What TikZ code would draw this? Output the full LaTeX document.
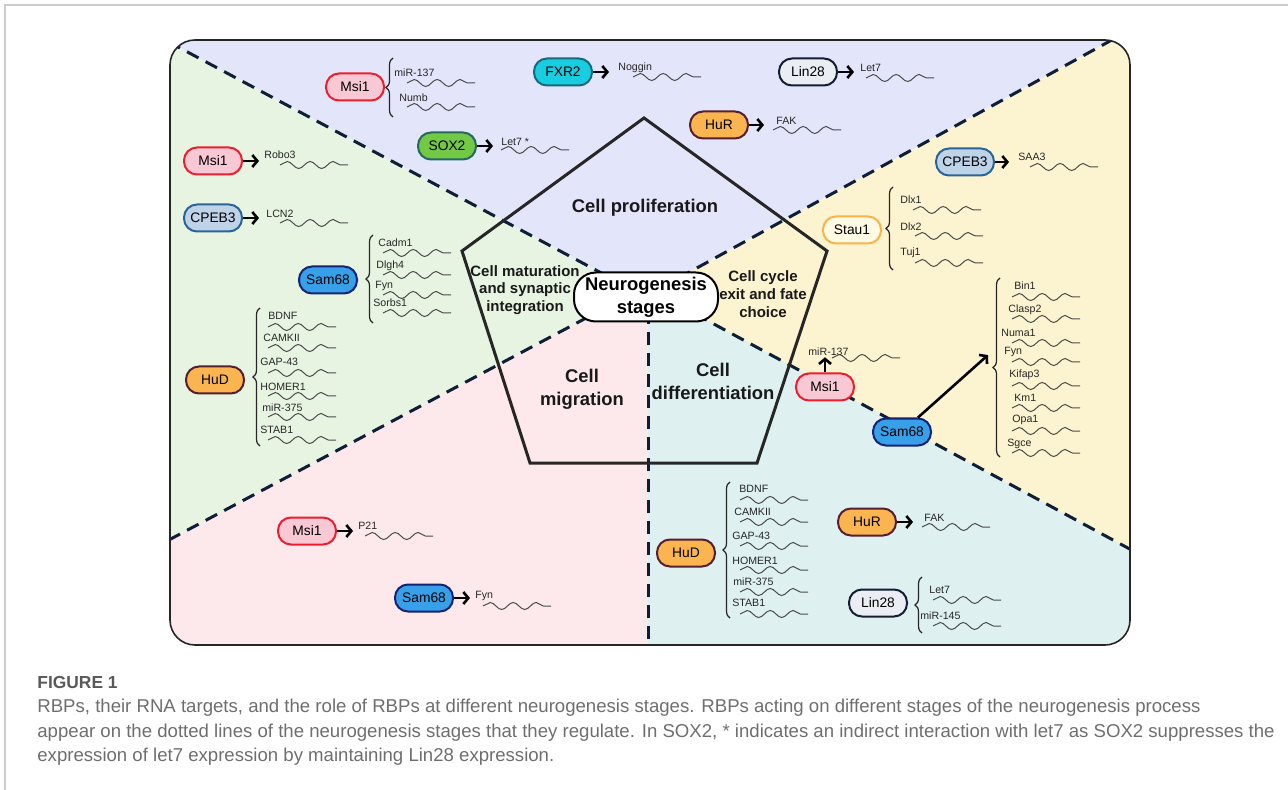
\documentclass[tikz,border=0pt]{standalone}
\usepackage{fontspec}
\setmainfont{Liberation Sans}
\usetikzlibrary{arrows.meta,decorations.pathmorphing,decorations.pathreplacing}

\definecolor{cprol}{RGB}{227,230,250}
\definecolor{cmat}{RGB}{232,244,226}
\definecolor{ccyc}{RGB}{252,243,208}
\definecolor{cmig}{RGB}{253,232,235}
\definecolor{cdiff}{RGB}{222,240,240}
\definecolor{divcol}{RGB}{15,30,55}
\definecolor{msifill}{RGB}{248,200,212}
\definecolor{msiedge}{RGB}{235,30,45}
\definecolor{fxrfill}{RGB}{25,205,225}
\definecolor{fxredge}{RGB}{25,105,125}
\definecolor{soxfill}{RGB}{115,200,70}
\definecolor{soxedge}{RGB}{35,105,95}
\definecolor{linfill}{RGB}{234,237,244}
\definecolor{linedge}{RGB}{20,30,50}
\definecolor{hufill}{RGB}{250,180,80}
\definecolor{huedge}{RGB}{85,30,50}
\definecolor{cpebfill}{RGB}{190,210,232}
\definecolor{cpebedge}{RGB}{40,100,150}
\definecolor{staufill}{RGB}{255,250,228}
\definecolor{stauedge}{RGB}{250,180,70}
\definecolor{samfill}{RGB}{55,160,232}
\definecolor{samedge}{RGB}{20,35,115}
\definecolor{captext}{RGB}{110,110,110}

\tikzset{
 rbp/.style={draw, line width=1pt, rounded corners=6.5pt, minimum width=29pt, minimum height=13.5pt, inner sep=1pt, font=\fontsize{6.9}{8}\selectfont},
 msi/.style={rbp, fill=msifill, draw=msiedge},
 fxr/.style={rbp, fill=fxrfill, draw=fxredge},
 sox/.style={rbp, fill=soxfill, draw=soxedge},
 lin/.style={rbp, fill=linfill, draw=linedge},
 hu/.style={rbp, fill=hufill, draw=huedge},
 cpeb/.style={rbp, fill=cpebfill, draw=cpebedge},
 stau/.style={rbp, fill=staufill, draw=stauedge},
 sam/.style={rbp, fill=samfill, draw=samedge},
 tlabel/.style={inner sep=0.5pt, anchor=west, font=\fontsize{5.3}{6}\selectfont, text=black!85},
 rna/.style={decorate, decoration={snake, segment length=11.5pt, amplitude=1.75pt}, line width=0.5pt, draw=black!70},
 act/.style={line width=1.3pt, -{Straight Barb[length=2.5pt,width=6pt]}},
 brc/.style={decorate, decoration={brace, amplitude=3.5pt}, line width=0.6pt, draw=black!85},
 divider/.style={line width=1.5pt, draw=divcol, dash pattern=on 6.5pt off 4pt},
 stage/.style={align=center, text=black!90, font=\bfseries\fontsize{9.2}{11.5}\selectfont},
 substage/.style={align=center, text=black!90, font=\bfseries\fontsize{7.5}{8.9}\selectfont},
 hub/.style={draw, fill=white, line width=1pt, rounded corners=11pt, minimum width=72pt, minimum height=24.5pt, inner sep=1pt, align=center, font=\bfseries\fontsize{9.2}{11.5}\selectfont},
 caption/.style={anchor=west, inner sep=0pt, text=captext, font=\fontsize{9.3}{11}\selectfont}
}

\newcommand{\target}[4]{%
 \node[tlabel] (#1) at (#2) {#3};
 \draw[rna] (#4) -- ++(68,0);
}

\begin{document}
\begin{tikzpicture}[x=0.5pt,y=-0.5pt]
 \useasboundingbox (0,0) rectangle (1288,790);
 \draw[black!20, line width=0.8pt] (5,790) -- (5,5) -- (1288,5);
\begin{scope}
 \clip[rounded corners=12.5pt] (170,40) rectangle (1130,645);
 \fill[cprol] (150,0) -- (1150,0) -- (1150,19) -- (675,280) -- (648,295) -- (620,283) -- (150,32) -- cycle;
 \fill[ccyc] (1150,19) -- (1150,560) -- (675,303) -- (648,295) -- (675,280) -- cycle;
 \fill[cdiff] (1150,560) -- (1150,660) -- (648,660) -- (648,295) -- (675,303) -- cycle;
 \fill[cmig] (648,660) -- (150,660) -- (150,550) -- (620,300) -- (648,295) -- cycle;
 \fill[cmat] (150,32) -- (620,283) -- (648,295) -- (620,300) -- (150,550) -- cycle;
 \draw[divider] (150,32) -- (620,283);
 \draw[divider] (1150,19) -- (675,280);
 \draw[divider] (150,550) -- (620,300);
 \draw[divider] (1150,560) -- (675,303);
 \draw[divider] (648,660) -- (648,300);
\end{scope}
 \draw[black!85, line width=0.8pt, rounded corners=12.5pt] (170,40) rectangle (1130,645);
 \draw[black!85, line width=1.5pt] (644,118) -- (827,251) -- (757,463) -- (530,463) -- (462,251) -- cycle;

 \node[stage] (prolif) at (645,208) {Cell proliferation};
 \node[substage] (matur) at (525,290) {Cell maturation\\and synaptic\\integration};
 \node[substage] (cycle) at (763,294) {Cell cycle\\exit and fate\\choice};
 \node[stage] (migr) at (582,389) {Cell\\migration};
 \node[stage] (diff) at (713,381) {Cell\\differentiation};
 \node[hub] (hub) at (646,297) {Neurogenesis\\stages};

 \node[msi] (msiA) at (355,87) {Msi1};
 \node[fxr] (fxr) at (563,72) {FXR2};
 \node[sox] (soxA) at (447,146) {SOX2};
 \node[lin] (linA) at (808,72) {Lin28};
 \node[hu] (hurA) at (719,125) {HuR};
 \node[cpeb] (cpebB) at (965,162) {CPEB3};
 \node[stau] (stau) at (852,230) {Stau1};
 \node[msi] (msiC) at (825,387) {Msi1};
 \node[sam] (samC) at (902,432) {Sam68};
 \node[msi] (msiB) at (213,161) {Msi1};
 \node[cpeb] (cpebA) at (213,218) {CPEB3};
 \node[sam] (samA) at (328,280) {Sam68};
 \node[hu] (hudA) at (215,380) {HuD};
 \node[msi] (msiD) at (307,531) {Msi1};
 \node[sam] (samB) at (424,598) {Sam68};
 \node[hu] (hudB) at (686,553) {HuD};
 \node[hu] (hurB) at (867,522) {HuR};
 \node[lin] (linB) at (878,603) {Lin28};

 \target{mirA}{393,73}{miR-137}{407,83}
 \target{numb}{398,98}{Numb}{407,107}
 \target{noggin}{617,68}{Noggin}{633,77}
 \target{letA}{500,142}{Let7 *}{501,150}
 \target{letB}{859,68}{Let7}{866,78}
 \target{fakA}{775,121}{FAK}{773,130}
 \target{saa}{1017,157}{SAA3}{1030,167}
 \target{dlxA}{899,200}{Dlx1}{913,210}
 \target{dlxB}{899,227}{Dlx2}{915,236}
 \target{tuj}{899,253}{Tuj1}{915,263}
 \target{mirC}{807,352}{miR-137}{832,358}
 \target{bin}{1013,286}{Bin1}{1012,297}
 \target{clasp}{1007,310}{Clasp2}{1012,319}
 \target{numa}{1000,333}{Numa1}{1012,343}
 \target{fynC}{1003,352}{Fyn}{1012,362}
 \target{kifap}{1008,375}{Kifap3}{1012,386}
 \target{kmone}{1013,398}{Km1}{1012,408}
 \target{opa}{1011,420}{Opa1}{1012,431}
 \target{sgce}{1006,444}{Sgce}{1012,453}
 \target{robo}{263,155}{Robo3}{280,165}
 \target{lcn}{265,214}{LCN2}{280,223}
 \target{cadm}{377,243}{Cadm1}{383,253}
 \target{dlgh}{375,266}{Dlgh4}{383,275}
 \target{fynA}{374,286}{Fyn}{383,295}
 \target{sorbs}{372,303}{Sorbs1}{383,313}
 \target{bdnfA}{267,316}{BDNF}{268,327}
 \target{camkA}{262,338}{CAMKII}{268,348}
 \target{gapA}{259,362}{GAP-43}{268,373}
 \target{homerA}{259,387}{HOMER1}{268,396}
 \target{mirD}{261,408}{miR-375}{268,417}
 \target{stabA}{259,430}{STAB1}{268,440}
 \target{pone}{357,526}{P21}{365,536}
 \target{fynB}{474,596}{Fyn}{483,606}
 \target{bdnfB}{738,489}{BDNF}{740,500}
 \target{camkB}{733,512}{CAMKII}{740,522}
 \target{gapB}{731,536}{GAP-43}{740,546}
 \target{homerB}{731,561}{HOMER1}{740,570}
 \target{mirE}{732,582}{miR-375}{740,592}
 \target{stabB}{731,603}{STAB1}{740,614}
 \target{fakB}{923,518}{FAK}{922,527}
 \target{letC}{928,590}{Let7}{933,600}
 \target{mirF}{919,616}{miR-145}{933,626}

 \draw[act, shorten >=4pt] (fxr.east) -- (fxr.east -| noggin.west);
 \draw[act, shorten >=3.5pt] (soxA.east) -- (soxA.east -| letA.west);
 \draw[act, shorten >=2.5pt] (linA.east) -- (linA.east -| letB.west);
 \draw[act, shorten >=5.5pt] (hurA.east) -- (hurA.east -| fakA.west);
 \draw[act, shorten >=4pt] (cpebB.east) -- (cpebB.east -| saa.west);
 \draw[act, shorten >=2pt] (msiB.east) -- (msiB.east -| robo.west);
 \draw[act, shorten >=3pt] (cpebA.east) -- (cpebA.east -| lcn.west);
 \draw[act, shorten >=2pt] (msiD.east) -- (msiD.east -| pone.west);
 \draw[act, shorten >=2pt] (samB.east) -- (samB.east -| fynB.west);
 \draw[act, shorten >=5pt] (hurB.east) -- (hurB.east -| fakB.west);
 \draw[act] (msiC.north) -- (msiC.north |- mirC.south);
 \coordinate (samCtip) at (988,355);
 \draw[act] ([xshift=8pt]samC.north) -- (samCtip);

 \draw[brc] (393,117) -- (393,58);
 \draw[brc] (893,270) -- (893,187);
 \draw[brc] (1000,457) -- (1000,278);
 \draw[brc] (373,323) -- (373,235);
 \draw[brc] (260,446) -- (260,308);
 \draw[brc] (730,618) -- (730,482);
 \draw[brc] (922,633) -- (922,577);

 \node[caption, font=\bfseries\fontsize{8.7}{10}\selectfont, text=black!65] (fig) at (37,683) {FIGURE 1};
 \node[caption] (capA) at (37,708) {RBPs, their RNA targets, and the role of RBPs at different neurogenesis stages. RBPs acting on different stages of the neurogenesis process};
 \node[caption] (capB) at (37,733) {appear on the dotted lines of the neurogenesis stages that they regulate. In SOX2, * indicates an indirect interaction with let7 as SOX2 suppresses the};
 \node[caption] (capC) at (37,757) {expression of let7 expression by maintaining Lin28 expression.};
\end{tikzpicture}
\end{document}
